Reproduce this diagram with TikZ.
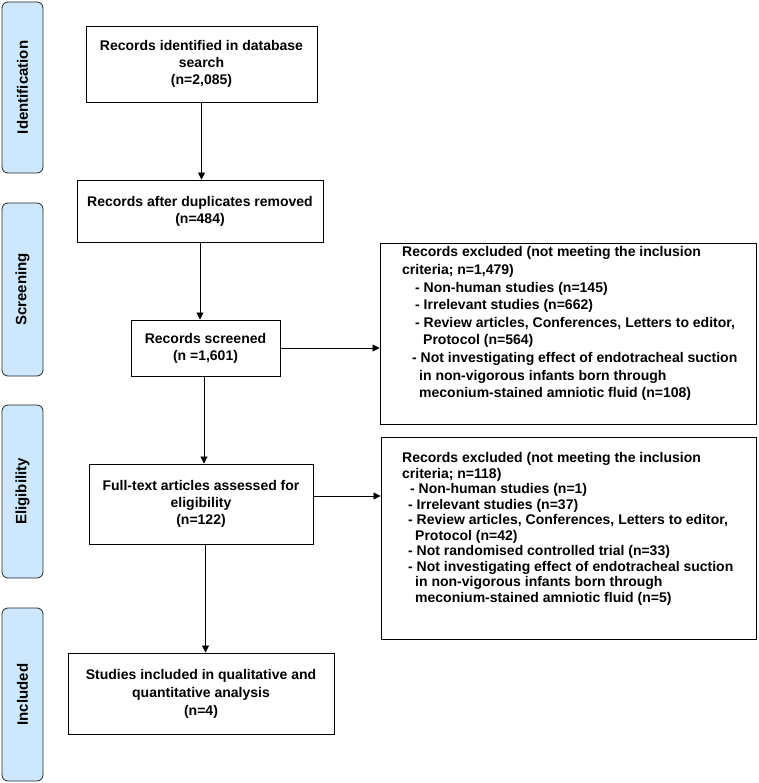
\documentclass[tikz,border=0pt]{standalone}
\usepackage{fontspec}
\setmainfont{Liberation Sans}
\usetikzlibrary{arrows.meta,calc}
\definecolor{barblue}{RGB}{205,232,252}
\tikzset{
  phase/.style={draw=black!85, line width=0.8pt, fill=barblue, rounded corners=6pt,
    minimum width=41pt, minimum height=#1, inner sep=0pt},
  phaselabel/.style={rotate=90, font=\fontsize{15}{18}\selectfont\bfseries, inner sep=0pt},
  flowbox/.style={draw=black, line width=0.9pt, fill=white, inner sep=0pt, align=center,
    font=\fontsize{14}{16.8}\selectfont\bfseries},
  exclbox/.style={draw=black, line width=0.9pt, fill=white, inner sep=0pt},
  excltext/.style={anchor=north west, inner sep=0pt, align=left},
  arr/.style={line width=0.8pt, -{Triangle[length=7pt,width=7pt]}}
}
\begin{document}
\begin{tikzpicture}[x=1pt,y=-1pt]
\useasboundingbox (0,0) rectangle (758,783);
% phase bars
\node[phase=171pt] (pid) at (22.5,87.5) {};
\node[phaselabel] (lid) at (pid.center) {Identification};
\node[phase=173pt] (psc) at (22.5,289.5) {};
\node[phaselabel] (lsc) at (psc.center) {Screening};
\node[phase=173pt] (pel) at (22.5,491.5) {};
\node[phaselabel] (lel) at (pel.center) {Eligibility};
\node[phase=173pt] (pin) at (22.5,694.5) {};
\node[phaselabel] (lin) at (pin.center) {Included};
% main flow boxes
\node[flowbox, minimum width=231pt, minimum height=76pt] (b1) at (201.5,64)
  {Records identified in database\\search\\(n=2,085)};
\node[flowbox, minimum width=246pt, minimum height=62pt] (b2) at (200,211)
  {Records after duplicates removed\\(n=484)};
\node[flowbox, minimum width=149pt, minimum height=56pt] (b3) at (205.5,348)
  {Records screened\\(n =1,601)};
\node[flowbox, minimum width=224pt, minimum height=80pt] (b4) at (201,504)
  {Full-text articles assessed for\\eligibility\\(n=122)};
\node[flowbox, minimum width=266pt, minimum height=81pt, font=\fontsize{14}{18}\selectfont\bfseries] (b5) at (201,693.5)
  {Studies included in qualitative and\\quantitative analysis\\(n=4)};
% exclusion boxes
\node[exclbox, minimum width=376pt, minimum height=181pt] (e1) at (568,333.5) {};
\node[excltext, font=\fontsize{14}{17.6}\selectfont\bfseries] (t1) at (402,246.5) {%
Records excluded (not meeting the inclusion\\
criteria; n=1,479)\\
\hspace*{13pt}- Non-human studies (n=145)\\
\hspace*{13pt}- Irrelevant studies (n=662)\\
\hspace*{13pt}- Review articles, Conferences, Letters to editor,\\
\hspace*{21pt}Protocol (n=564)\\
\hspace*{10pt}- Not investigating effect of endotracheal suction\\
\hspace*{17pt}in non-vigorous infants born through\\
\hspace*{17pt}meconium-stained amniotic fluid (n=108)};
\node[exclbox, minimum width=375pt, minimum height=202pt] (e2) at (568.5,538.5) {};
\node[excltext, font=\fontsize{14}{15.5}\selectfont\bfseries] (t2) at (402,452.5) {%
Records excluded (not meeting the inclusion\\
criteria; n=118)\\
\hspace*{8pt}- Non-human studies (n=1)\\
\hspace*{6pt}- Irrelevant studies (n=37)\\
\hspace*{6pt}- Review articles, Conferences, Letters to editor,\\
\hspace*{13pt}Protocol (n=42)\\
\hspace*{6pt}- Not randomised controlled trial (n=33)\\
\hspace*{6pt}- Not investigating effect of endotracheal suction\\
\hspace*{13pt}in non-vigorous infants born through\\
\hspace*{13pt}meconium-stained amniotic fluid (n=5)};
% arrows
\draw[arr] (b1.south) -- (b1.south |- b2.north);
\draw[arr] (b2.south) -- (b2.south |- b3.north);
\draw[arr] ([xshift=-1.5pt]b3.south) -- ([xshift=-1.5pt]b3.south |- b4.north);
\draw[arr] ([xshift=4.5pt]b4.south) -- ([xshift=4.5pt]b4.south |- b5.north);
\draw[arr] (b3.east) -- (b3.east -| e1.west);
\draw[arr] ([yshift=8pt]b4.east) -- ([yshift=8pt]b4.east -| e2.west);
\end{tikzpicture}
\end{document}
